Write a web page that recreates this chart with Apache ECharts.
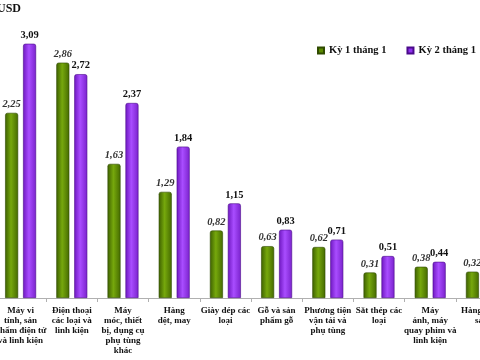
<!DOCTYPE html>
<html><head><meta charset="utf-8">
<script src="https://cdn.jsdelivr.net/npm/echarts@6/dist/echarts.min.js"></script>
<style>html,body{margin:0;padding:0;background:#fff}#c{width:480px;height:360px}</style>
</head><body><div id="c"></div>
<script>
const categories = [
  "Máy vi\ntính, sản\nphẩm điện tử\nvà linh kiện",
  "Điện thoại\ncác loại và\nlinh kiện",
  "Máy\nmóc, thiết\nbị, dụng cụ\nphụ tùng\nkhác",
  "Hàng\ndệt, may",
  "Giày dép các\nloại",
  "Gỗ và sản\nphẩm gỗ",
  "Phương tiện\nvận tải và\nphụ tùng",
  "Sắt thép các\nloại",
  "Máy\nảnh, máy\nquay phim và\nlinh kiện",
  "Hàng thủy\nsản"
];
const ky1 = [2.25, 2.86, 1.63, 1.29, 0.82, 0.63, 0.62, 0.31, 0.38, 0.32];
const ky2 = [3.09, 2.72, 2.37, 1.84, 1.15, 0.83, 0.71, 0.51, 0.44, 0.40];
const seriesNames = ["Kỳ 1 tháng 1", "Kỳ 2 tháng 1"];

const fmt = p => p.value.toFixed(2).replace('.', ',');
const serif = '"Liberation Serif", "DejaVu Serif", serif';
const greenGrad = new echarts.graphic.LinearGradient(0,0,1,0,[
  {offset:0,color:'#3d6000'},{offset:0.45,color:'#76a80c'},{offset:1,color:'#456a00'}]);
const purpleGrad = new echarts.graphic.LinearGradient(0,0,1,0,[
  {offset:0,color:'#6e17c0'},{offset:0.45,color:'#a94dff'},{offset:1,color:'#7a22cc'}]);

const chart = echarts.init(document.getElementById('c'));
chart.setOption({
  animation:false,
  graphic:[{type:'text',left:-3,top:3,style:{text:'USD',font:'bold 12px ' + serif,fill:'#111'}}],
  legend:{top:40,left:312,width:220,orient:'horizontal',itemWidth:6,itemHeight:6,itemGap:20,icon:'rect',
    textStyle:{fontFamily:serif,fontSize:10.5,fontWeight:'bold',color:'#111'},
    data:[{name:seriesNames[0],itemStyle:{color:'#5a8a00'}},{name:seriesNames[1],itemStyle:{color:'#8f30ee'}}]},
  grid:{left:-5,right:-27,top:10,bottom:62,containLabel:false,outerBoundsMode:'none'},
  xAxis:{type:'category',data:categories,
    axisLine:{lineStyle:{color:'#b0b0b0'}},
    axisTick:{show:true,length:4,lineStyle:{color:'#b0b0b0'}},
    axisLabel:{interval:0,margin:8,fontFamily:serif,fontSize:9,fontWeight:'bold',color:'#111',lineHeight:10,hideOverlap:false}},
  yAxis:{type:'value',min:0,max:3.5,show:false,splitLine:{show:false}},
  series:[
    {name:seriesNames[0],type:'bar',data:ky1,barWidth:13,barGap:'38%',
      itemStyle:{color:greenGrad,borderColor:'#2f4a00',borderWidth:0.6,borderRadius:[2,2,0,0]},
      label:{show:true,position:'top',distance:3,formatter:fmt,fontFamily:serif,fontSize:10.5,fontWeight:'bold',fontStyle:'italic',color:'#333'}},
    {name:seriesNames[1],type:'bar',data:ky2,barWidth:13,
      itemStyle:{color:purpleGrad,borderColor:'#4a0a8a',borderWidth:0.6,borderRadius:[2,2,0,0]},
      label:{show:true,position:'top',distance:3,formatter:fmt,fontFamily:serif,fontSize:10.5,fontWeight:'bold',color:'#111'}}
  ]
});
</script></body></html>
